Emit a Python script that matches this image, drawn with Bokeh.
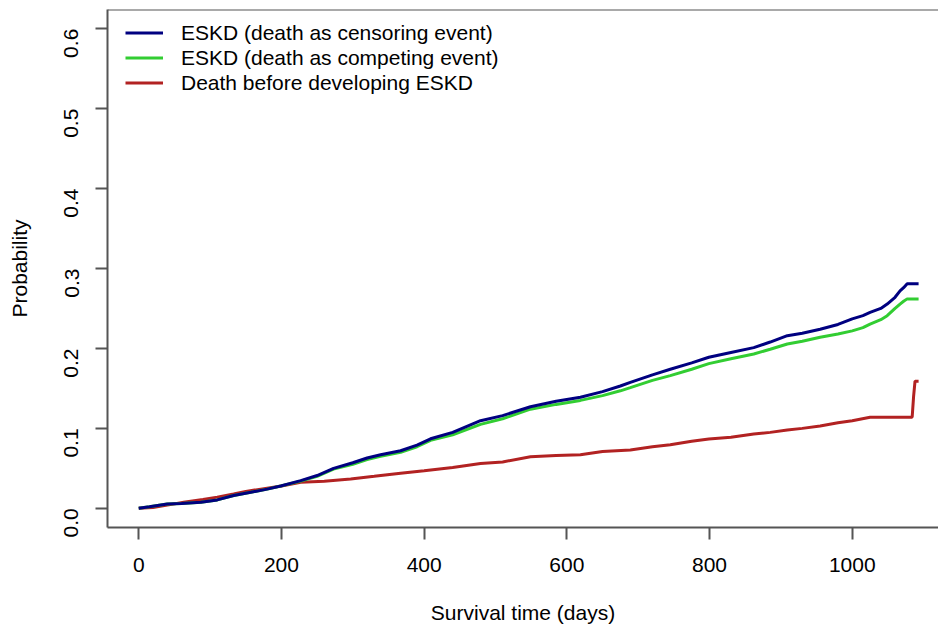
import math
from bokeh.plotting import figure
from bokeh.models import (Range1d, FixedTicker, Legend, LegendItem, Span,
                          CustomJSTickFormatter)
from bokeh.embed import file_html
from bokeh.resources import INLINE

# ---- data ----
blue_x = [0, 15, 40, 60, 87, 110, 133, 157, 180, 199, 227, 250, 273, 300, 320,
          339, 367, 390, 409, 440, 479, 510, 549, 585, 619, 650, 675, 689, 720,
          745, 775, 799, 830, 862, 885, 909, 930, 955, 980, 1000, 1015, 1025,
          1040, 1049, 1060, 1067, 1072, 1077, 1093]
blue_y = [0, 0.002, 0.0055, 0.006, 0.0075, 0.0105, 0.016, 0.020, 0.024, 0.028,
          0.0346, 0.041, 0.050, 0.057, 0.063, 0.067, 0.072, 0.079, 0.087, 0.095,
          0.1096, 0.116, 0.127, 0.134, 0.139, 0.146, 0.153, 0.1575, 0.167, 0.174,
          0.182, 0.189, 0.195, 0.201, 0.208, 0.216, 0.219, 0.224, 0.230, 0.237,
          0.241, 0.245, 0.250, 0.2555, 0.264, 0.272, 0.276, 0.281, 0.281]

green_x = [0, 15, 40, 60, 87, 110, 133, 157, 180, 199, 227, 250, 273, 300, 320,
           339, 367, 390, 409, 440, 479, 510, 549, 585, 619, 650, 675, 689, 720,
           745, 775, 799, 830, 862, 885, 909, 930, 955, 980, 1000, 1015, 1025,
           1040, 1049, 1060, 1067, 1072, 1077, 1093]
green_y = [0, 0.002, 0.0055, 0.006, 0.0075, 0.0105, 0.016, 0.020, 0.024, 0.028,
           0.034, 0.040, 0.049, 0.055, 0.061, 0.065, 0.070, 0.077, 0.085, 0.092,
           0.105, 0.112, 0.124, 0.130, 0.135, 0.141, 0.147, 0.151, 0.160, 0.166,
           0.174, 0.181, 0.187, 0.193, 0.199, 0.2055, 0.209, 0.214, 0.218, 0.222,
           0.226, 0.2305, 0.236, 0.241, 0.250, 0.2555, 0.259, 0.262, 0.262]

red_x = [0, 20, 40, 63, 90, 110, 133, 150, 171, 200, 227, 260, 297, 330, 367,
         400, 440, 479, 510, 549, 585, 619, 650, 689, 720, 745, 775, 799, 830,
         862, 885, 909, 930, 955, 980, 1000, 1025, 1084, 1086, 1088, 1093]
red_y = [0, 0.001, 0.004, 0.0075, 0.011, 0.014, 0.018, 0.021, 0.024, 0.028,
         0.0325, 0.034, 0.0367, 0.040, 0.044, 0.047, 0.051, 0.056, 0.058, 0.0646,
         0.066, 0.067, 0.071, 0.073, 0.077, 0.0796, 0.084, 0.0867, 0.089, 0.093,
         0.095, 0.098, 0.100, 0.103, 0.107, 0.1096, 0.114, 0.114, 0.140, 0.159,
         0.159]

labels = ["ESKD (death as censoring event)",
          "ESKD (death as competing event)",
          "Death before developing ESKD"]
x_ticks = [0, 200, 400, 600, 800, 1000]
y_ticks = [0.0, 0.1, 0.2, 0.3, 0.4, 0.5, 0.6]

FONT = "Liberation Sans"
FS = "21px"
AX = "#555555"

p = figure(width=938, height=628, output_backend="svg", toolbar_location=None,
           x_range=Range1d(-43.8, 1120.9), y_range=Range1d(-0.024, 0.624),
           min_border_left=107, min_border_right=0, min_border_top=9,
           min_border_bottom=101, background_fill_color="white",
           border_fill_color="white")
p.outline_line_color = None
p.xgrid.visible = False
p.ygrid.visible = False

for ax in (p.xaxis[0], p.yaxis[0]):
    ax.axis_line_color = AX
    ax.axis_line_width = 2
    ax.major_tick_line_color = AX
    ax.major_tick_line_width = 2
    ax.major_tick_out = 12
    ax.major_tick_in = 0
    ax.minor_tick_line_color = None
    ax.major_label_text_font = FONT
    ax.major_label_text_font_size = FS
    ax.major_label_text_color = "black"
    ax.axis_label_text_font = FONT
    ax.axis_label_text_font_size = FS
    ax.axis_label_text_font_style = "normal"
    ax.axis_label_text_color = "black"

p.xaxis[0].ticker = FixedTicker(ticks=x_ticks)
p.xaxis[0].axis_label = "Survival time (days)"
p.xaxis[0].major_label_standoff = 18
p.xaxis[0].axis_label_standoff = 26

p.yaxis[0].ticker = FixedTicker(ticks=y_ticks)
p.yaxis[0].formatter = CustomJSTickFormatter(code="return tick.toFixed(1);")
p.yaxis[0].major_label_orientation = math.pi / 2
p.yaxis[0].axis_label = "Probability"
p.yaxis[0].major_label_standoff = 24
p.yaxis[0].axis_label_standoff = 24

p.add_layout(Span(location=0.624, dimension="width", line_color=AX, line_width=2))

r_red = p.line(red_x, red_y, line_color="#B22222", line_width=3)
r_green = p.line(green_x, green_y, line_color="#32CD32", line_width=3)
r_blue = p.line(blue_x, blue_y, line_color="#000080", line_width=3)

legend = Legend(items=[LegendItem(label=labels[0], renderers=[r_blue]),
                       LegendItem(label=labels[1], renderers=[r_green]),
                       LegendItem(label=labels[2], renderers=[r_red])],
                location=(18, 432), margin=0, padding=0, spacing=0,
                glyph_width=38, glyph_height=25, label_height=25,
                label_standoff=18, border_line_color=None,
                background_fill_alpha=0, label_text_font=FONT,
                label_text_font_size=FS, label_text_color="black")
p.add_layout(legend)

open("out.html", "w").write(file_html(p, INLINE))
